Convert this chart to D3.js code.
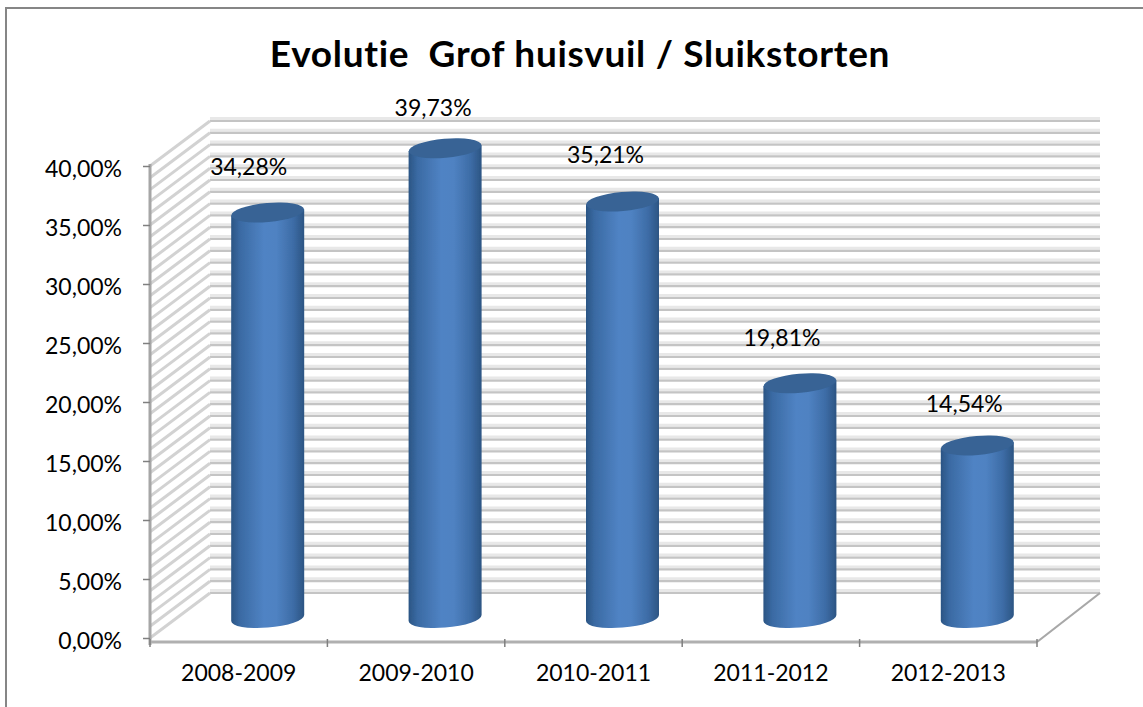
<!DOCTYPE html>
<html>
<head>
<meta charset="utf-8">
<script src="https://cdn.jsdelivr.net/npm/d3@7"></script>
<style>
html, body { margin: 0; padding: 0; background: #fff; }
svg { display: block; }
text { font-family: Lato, "Open Sans", sans-serif; fill: #000; }
</style>
</head>
<body>
<svg id="my-svg"></svg>
<script>
const categories = ["2008-2009", "2009-2010", "2010-2011", "2011-2012", "2012-2013"];
const values = [34.28, 39.73, 35.21, 19.81, 14.54];
const valueLabels = ["34,28%", "39,73%", "35,21%", "19,81%", "14,54%"];
const yTicks = [0, 5, 10, 15, 20, 25, 30, 35, 40];
const gridValues = d3.range(0, 41);
const titleText = "Evolutie  Grof huisvuil / Sluikstorten";

const width = 1143, height = 707;
const depthX = 60, depthY = -44;

const svg = d3.select("#my-svg").attr("width", width).attr("height", height);

const x = d3.scaleBand().domain(categories).range([150, 1037]);
const y = d3.scaleLinear().domain([0, 40]).range([638, 166]);

const defs = svg.append("defs");
defs.append("filter").attr("id", "soft")
    .append("feGaussianBlur").attr("stdDeviation", 0.7);

const grad = defs.append("linearGradient").attr("id", "barGrad");
[[0, "#2b5584"], [0.12, "#3a6aa3"], [0.45, "#5083c4"], [0.62, "#4f82c2"], [0.85, "#3d6ca6"], [1, "#2c5583"]]
    .forEach(s => grad.append("stop").attr("offset", s[0]).attr("stop-color", s[1]));

// frame, the picture is cropped so only top and left show
svg.append("path")
    .attr("d", "M6,707V8H1143")
    .attr("fill", "none").attr("stroke", "#868686").attr("stroke-width", 2);

// back wall + side wall grid
const grid = svg.append("g").attr("filter", "url(#soft)");
gridValues.forEach(d => {
    const yy = y(d);
    grid.append("line")
        .attr("x1", x.range()[0] + depthX).attr("x2", x.range()[1] + depthX + 3)
        .attr("y1", yy + depthY - 3.5).attr("y2", yy + depthY - 3.5)
        .attr("stroke", "#e8e8e8").attr("stroke-width", 3);
    grid.append("line")
        .attr("x1", x.range()[0] + depthX).attr("x2", x.range()[1] + depthX + 3)
        .attr("y1", yy + depthY - 1).attr("y2", yy + depthY - 1)
        .attr("stroke", "#c4c4c4").attr("stroke-width", 2.2);
    grid.append("line")
        .attr("x1", x.range()[0]).attr("x2", x.range()[0] + depthX)
        .attr("y1", yy).attr("y2", yy + depthY - 1)
        .attr("stroke", "#d2d2d2").attr("stroke-width", 3);
});

// floor edge on the right side
grid.append("line")
    .attr("x1", x.range()[1]).attr("x2", x.range()[1] + depthX + 3)
    .attr("y1", 642).attr("y2", y(0) + depthY - 1)
    .attr("stroke", "#a8a8a8").attr("stroke-width", 2.2);

// y axis
const yAxis = svg.append("g")
    .attr("transform", "translate(150,0)")
    .call(d3.axisLeft(y).tickValues(yTicks).tickSize(7).tickPadding(21)
        .tickFormat(d => d3.format(".2f")(d).replace(".", ",") + "%"));
yAxis.select(".domain").attr("stroke", "#a6a6a6").attr("stroke-width", 3)
    .attr("d", "M0,164V645");
yAxis.selectAll("line").attr("stroke", "#7f7f7f").attr("stroke-width", 1.5);
yAxis.selectAll("text").style("font-size", "23px")
    .attr("dy", "0.36em").attr("y", 2);

// x axis
const xAxis = svg.append("g")
    .attr("transform", "translate(0,642)")
    .call(d3.axisBottom(x).tickSize(0).tickPadding(23));
xAxis.select(".domain").attr("stroke", "#b0b0b0").attr("stroke-width", 3)
    .attr("d", "M150,0H1037");
xAxis.selectAll("text").style("font-size", "23px");
svg.append("g").selectAll("line")
    .data(categories.concat(["end"]))
    .join("line")
    .attr("x1", d => d === "end" ? x.range()[1] : x(d))
    .attr("x2", d => d === "end" ? x.range()[1] : x(d))
    .attr("y1", 639).attr("y2", 647)
    .attr("stroke", "#7f7f7f").attr("stroke-width", 1.5);

// cylinders
const barW = 73, ry = 9.5, tilt = -5;
const cx = d => x(d) + x.bandwidth() / 2 + depthX / 2 - 1;
const base = y(0) + depthY / 2 + 2;
const rows = categories.map((c, i) => ({ c: c, v: values[i], label: valueLabels[i] }));

const bars = svg.append("g").selectAll("g")
    .data(rows)
    .join("g").attr("filter", "url(#soft)");

// body: tilted bottom ellipse, straight sides
bars.append("path")
    .attr("fill", "url(#barGrad)")
    .attr("d", d => {
        const l = cx(d.c) - barW / 2, r = cx(d.c) + barW / 2;
        const topY = y(d.v) + depthY / 2 + 1;
        return `M${l},${topY + 3}L${r},${topY - 3}L${r},${base - 3}A${barW / 2},${ry} ${tilt} 0 1 ${l},${base + 3}Z`;
    });

bars.append("ellipse")
    .attr("rx", barW / 2).attr("ry", ry)
    .attr("transform", d => `translate(${cx(d.c)},${y(d.v) + depthY / 2 + 1}) rotate(${tilt})`)
    .attr("fill", "#376395");

// value labels were dragged by hand in the original, so each has its own nudge
const labelDx = [0, 7, 2, 1, 6];
const labelDy = [3, 8, 1, 3, 7];
svg.append("g").selectAll("text")
    .data(rows)
    .join("text")
    .attr("x", (d, i) => cx(d.c) - 19 + labelDx[i])
    .attr("y", (d, i) => y(d.v) + depthY / 2 - 39 + labelDy[i])
    .attr("text-anchor", "middle")
    .style("font-size", "23px")
    .text(d => d.label);

// title
svg.append("text")
    .attr("x", 580).attr("y", 67)
    .attr("text-anchor", "middle")
    .style("font-size", "37px").style("font-weight", "700")
    .style("letter-spacing", "0.7px")
    .style("white-space", "pre")
    .text(titleText);
</script>
</body>
</html>
